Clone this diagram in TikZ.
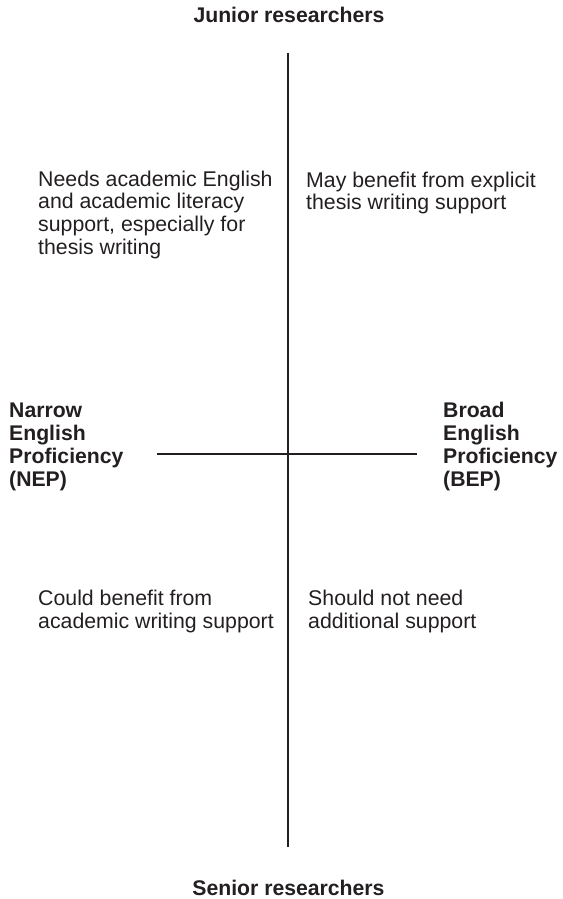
\documentclass[tikz,border=0pt]{standalone}
\usepackage{fontspec}
\setmainfont{Liberation Sans}
\definecolor{ink}{HTML}{231F20}
\begin{document}
\begin{tikzpicture}[x=1pt,y=-1pt,
  txt/.style={anchor=base west,inner sep=0pt,align=left,text=ink,
    font=\fontsize{21.3}{22.8}\selectfont},
  bold/.style={txt,font=\fontsize{21.2}{23}\selectfont\bfseries},
  title/.style={anchor=base,inner sep=0pt,text depth=0pt,text=ink,font=\fontsize{21.2}{23}\selectfont\bfseries},
  axis/.style={draw=ink,line width=2.2pt}]
\useasboundingbox (0,0) rectangle (562,899);
\coordinate (vtop) at (288,53);
\coordinate (vbot) at (288,847);
\coordinate (hl) at (157,454);
\coordinate (hr) at (417,454);
\draw[axis] (vtop) -- (vbot);
\draw[axis] (hl) -- (hr);
\node[title] (junior) at (289,22.7) {Junior researchers};
\node[title] (senior) at (288.5,895.3) {Senior researchers};
% base anchor of a multi-line node is the baseline of its last line
\node[txt] (q1) at (38,254.4) {Needs academic English\\and academic literacy\\support, especially for\\thesis writing};
\node[txt] (q2) at (306,209.8) {May benefit from explicit\\thesis writing support};
\node[bold] (nep) at (9,486.5) {Narrow\\English\\Proficiency\\(NEP)};
\node[bold] (bep) at (443,486) {Broad\\English\\Proficiency\\(BEP)};
\node[txt] (q3) at (38,628.3) {Could benefit from\\academic writing support};
\node[txt] (q4) at (308,628.3) {Should not need\\additional support};
\end{tikzpicture}
\end{document}
